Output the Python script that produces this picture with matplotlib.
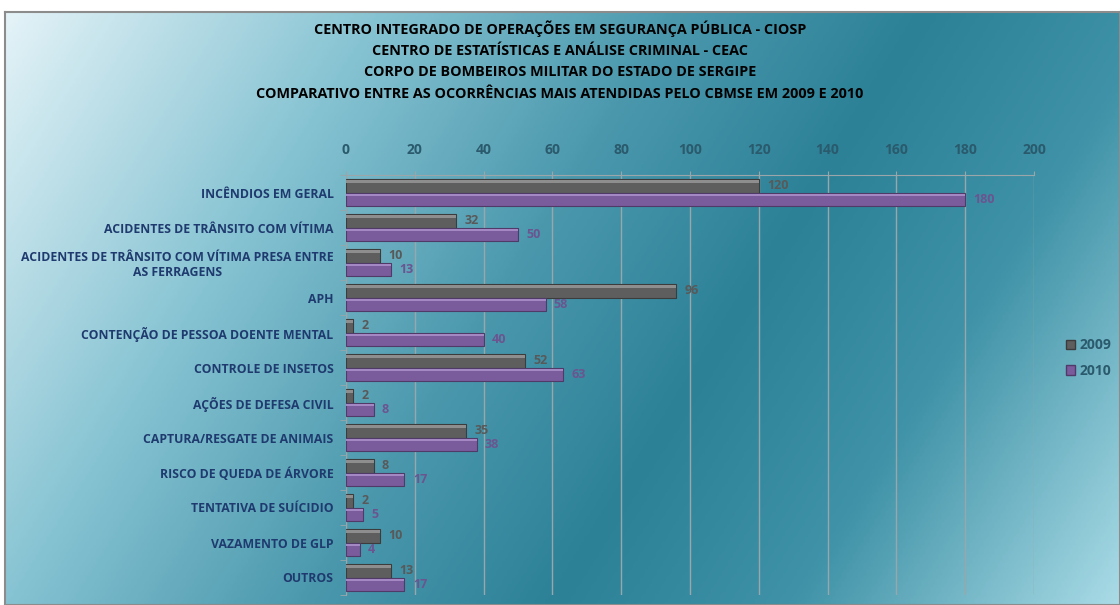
import numpy as np
import matplotlib.pyplot as plt
from matplotlib.colors import LinearSegmentedColormap
from matplotlib.patches import Patch

# dados do gráfico
categorias = ['INCÊNDIOS EM GERAL',
              'ACIDENTES DE TRÂNSITO COM VÍTIMA',
              'ACIDENTES DE TRÂNSITO COM VÍTIMA PRESA ENTRE\nAS FERRAGENS',
              'APH',
              'CONTENÇÃO DE PESSOA DOENTE MENTAL',
              'CONTROLE DE INSETOS',
              'AÇÕES DE DEFESA CIVIL',
              'CAPTURA/RESGATE DE ANIMAIS',
              'RISCO DE QUEDA DE ÁRVORE',
              'TENTATIVA DE SUÍCIDIO',
              'VAZAMENTO DE GLP',
              'OUTROS']
v2009 = [120, 32, 10, 96, 2, 52, 2, 35, 8, 2, 10, 13]
v2010 = [180, 50, 13, 58, 40, 63, 8, 38, 17, 5, 4, 17]
ticks_x = [0, 20, 40, 60, 80, 100, 120, 140, 160, 180, 200]
titulo = ['CENTRO INTEGRADO DE OPERAÇÕES EM SEGURANÇA PÚBLICA - CIOSP',
          'CENTRO DE ESTATÍSTICAS E ANÁLISE CRIMINAL - CEAC',
          'CORPO DE BOMBEIROS MILITAR DO ESTADO DE SERGIPE',
          'COMPARATIVO ENTRE AS OCORRÊNCIAS MAIS ATENDIDAS PELO CBMSE EM 2009 E 2010']

plt.rcParams['font.family'] = ['Open Sans', 'DejaVu Sans']

W, H = 1120, 605
fig = plt.figure(figsize=(W/100, H/100), dpi=100)
fig.patch.set_facecolor('white')

# fundo em degradê
bg = fig.add_axes([5/W, 0, 1 - 5/W, 1 - 12/H])
xx, yy = np.meshgrid(np.linspace(0, 1, 400), np.linspace(0, 1, 200))
t = 0.75*xx + 0.25*yy
cmap = LinearSegmentedColormap.from_list('fundo', [(0, '#e4f3f8'), (0.25, '#86c3d2'),
                                                   (0.45, '#4b98ad'), (0.62, '#2c8197'),
                                                   (0.78, '#3f92a7'), (1, '#a9dbe6')])
bg.imshow(t, cmap=cmap, aspect='auto', extent=[0, 1, 0, 1], origin='upper')
bg.set_xticks([]); bg.set_yticks([])
for s in bg.spines.values():
    s.set_color('#8c8c8c'); s.set_linewidth(1.5)

# área do gráfico
ax = fig.add_axes([346/W, 1 - 595/H, 688/W, 420/H])
ax.set_facecolor('none')
y = np.arange(len(categorias))
h = 0.38
ax.barh(y - h/2, v2009, height=h, color='#5e5e5e', edgecolor='#3c3c3c', lw=0.8, zorder=3)
ax.barh(y - h + 0.07, v2009, height=0.07, color='#8e8e8e', lw=0, zorder=4)
ax.barh(y + h/2, v2010, height=h, color='#7a5b9c', edgecolor='#4f3a68', lw=0.8, zorder=3)
ax.barh(y + 0.07, v2010, height=0.07, color='#a488c4', lw=0, zorder=4)

for i in range(len(categorias)):
    ax.annotate(str(v2009[i]), (v2009[i], y[i] - h/2), xytext=(6, 0), textcoords='offset points',
                va='center', ha='left', fontsize=9, color='#595959', fontweight='bold')
    ax.annotate(str(v2010[i]), (v2010[i], y[i] + h/2), xytext=(6, 0), textcoords='offset points',
                va='center', ha='left', fontsize=9, color='#6c5490', fontweight='bold')

ax.set_xlim(0, 200)
ax.set_ylim(len(categorias) - 0.5, -0.5)
ax.xaxis.tick_top()
ax.set_xticks(ticks_x, [str(v) for v in ticks_x], fontweight='bold')
ax.tick_params(axis='x', length=3, pad=10, labelsize=10, labelcolor='#2a5a6c', color='#9aa6aa')
ax.set_yticks(y, categorias, fontweight='bold')
ax.set_yticks(np.arange(-0.5, len(categorias), 1), minor=True)
ax.tick_params(axis='y', which='major', length=0, pad=9, labelsize=8.8, labelcolor='#1f3a6e')
ax.tick_params(axis='y', which='minor', length=4, color='#9aa6aa')
for lab in ax.get_yticklabels():
    lab.set_multialignment('center')
ax.grid(axis='x', color='#97a7ab', lw=1, zorder=0)
ax.set_axisbelow(True)
for k in ['bottom', 'right']:
    ax.spines[k].set_visible(False)
for k in ['top', 'left']:
    ax.spines[k].set_color('#9aa6aa')

for i, linha in enumerate(titulo):
    fig.text(0.5, 1 - (29 + i*21.7)/H, linha, ha='center', va='center', fontsize=10.4,
             color='black', fontweight='bold')

handles = [Patch(facecolor='#5e5e5e', edgecolor='#3c3c3c'), Patch(facecolor='#7a5b9c', edgecolor='#4f3a68')]
fig.legend(handles, ['2009', '2010'], loc='center left', bbox_to_anchor=(1053/W, 1 - 358/H),
           frameon=False, handlelength=0.7, handleheight=0.7, handletextpad=0.3, labelspacing=0.8,
           prop={'size': 10, 'weight': 'bold'}, labelcolor='#2a5a6c')

fig.savefig('out.png', dpi=100)
